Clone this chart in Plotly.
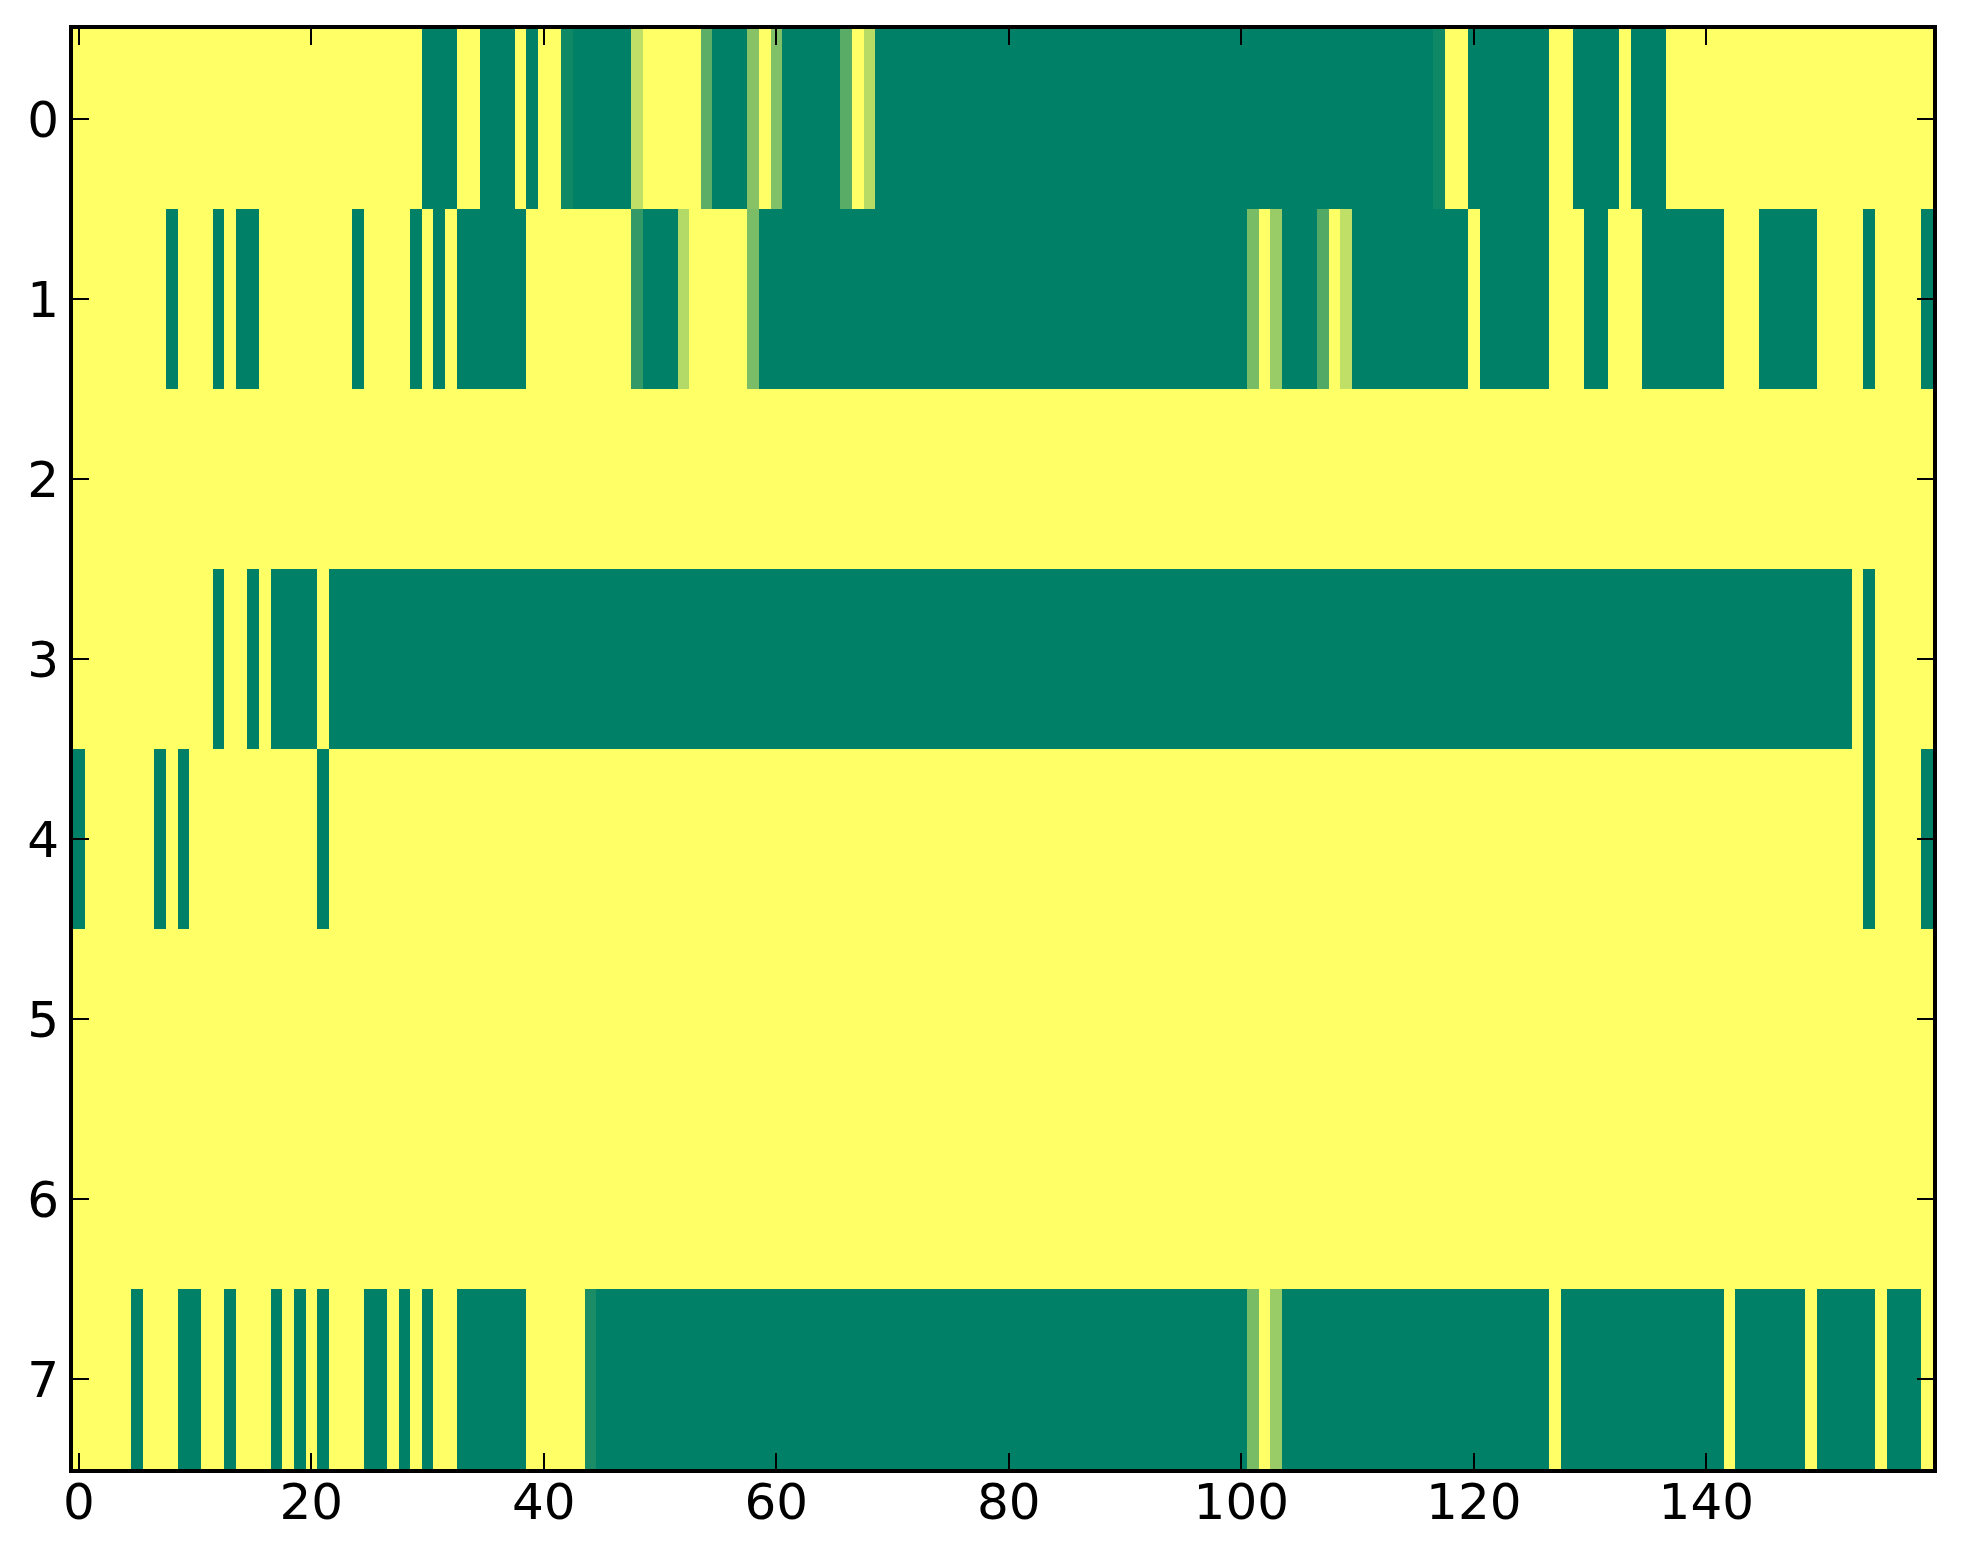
import plotly.graph_objects as go

# Heatmap values per row (160 columns, 0..159)
row0 = [1, 1, 1, 1, 1, 1, 1, 1, 1, 1, 1, 1, 1, 1, 1, 1, 1, 1, 1, 1,
        1, 1, 1, 1, 1, 1, 1, 1, 1, 1, 0, 0, 0, 1, 1, 0, 0, 0, 1, 0,
        1, 1, 0.06, 0, 0, 0, 0, 0, 0.75, 1, 1, 1, 1, 1, 0.36, 0, 0, 0, 0.53, 1,
        0.5, 0, 0, 0, 0, 0, 0.35, 1, 0.72, 0, 0, 0, 0, 0, 0, 0, 0, 0, 0, 0,
        0, 0, 0, 0, 0, 0, 0, 0, 0, 0, 0, 0, 0, 0, 0, 0, 0, 0, 0, 0,
        0, 0, 0, 0, 0, 0, 0, 0, 0, 0, 0, 0, 0, 0, 0, 0, 0, 0.06, 1, 1,
        0, 0, 0, 0, 0, 0, 0, 1, 1, 0, 0, 0, 0, 1, 0, 0, 0, 1, 1, 1,
        1, 1, 1, 1, 1, 1, 1, 1, 1, 1, 1, 1, 1, 1, 1, 1, 1, 1, 1, 1]

row1 = [1, 1, 1, 1, 1, 1, 1, 1, 0, 1, 1, 1, 0, 1, 0, 0, 1, 1, 1, 1,
        1, 1, 1, 1, 0, 1, 1, 1, 1, 0, 1, 0, 1, 0, 0, 0, 0, 0, 0, 1,
        1, 1, 1, 1, 1, 1, 1, 1, 0.2, 0, 0, 0, 0.7, 1, 1, 1, 1, 1, 0.48, 0,
        0, 0, 0, 0, 0, 0, 0, 0, 0, 0, 0, 0, 0, 0, 0, 0, 0, 0, 0, 0,
        0, 0, 0, 0, 0, 0, 0, 0, 0, 0, 0, 0, 0, 0, 0, 0, 0, 0, 0, 0,
        0, 0.47, 1, 0.6, 0, 0, 0, 0.32, 1, 0.75, 0, 0, 0, 0, 0, 0, 0, 0, 0, 0,
        1, 0, 0, 0, 0, 0, 0, 1, 1, 1, 0, 0, 1, 1, 1, 0, 0, 0, 0, 0,
        0, 0, 1, 1, 1, 0, 0, 0, 0, 0, 1, 1, 1, 1, 0, 1, 1, 1, 1, 0]

row2 = [1, 1, 1, 1, 1, 1, 1, 1, 1, 1, 1, 1, 1, 1, 1, 1, 1, 1, 1, 1,
        1, 1, 1, 1, 1, 1, 1, 1, 1, 1, 1, 1, 1, 1, 1, 1, 1, 1, 1, 1,
        1, 1, 1, 1, 1, 1, 1, 1, 1, 1, 1, 1, 1, 1, 1, 1, 1, 1, 1, 1,
        1, 1, 1, 1, 1, 1, 1, 1, 1, 1, 1, 1, 1, 1, 1, 1, 1, 1, 1, 1,
        1, 1, 1, 1, 1, 1, 1, 1, 1, 1, 1, 1, 1, 1, 1, 1, 1, 1, 1, 1,
        1, 1, 1, 1, 1, 1, 1, 1, 1, 1, 1, 1, 1, 1, 1, 1, 1, 1, 1, 1,
        1, 1, 1, 1, 1, 1, 1, 1, 1, 1, 1, 1, 1, 1, 1, 1, 1, 1, 1, 1,
        1, 1, 1, 1, 1, 1, 1, 1, 1, 1, 1, 1, 1, 1, 1, 1, 1, 1, 1, 1]

row3 = [1, 1, 1, 1, 1, 1, 1, 1, 1, 1, 1, 1, 0, 1, 1, 0, 1, 0, 0, 0,
        0, 1, 0, 0, 0, 0, 0, 0, 0, 0, 0, 0, 0, 0, 0, 0, 0, 0, 0, 0,
        0, 0, 0, 0, 0, 0, 0, 0, 0, 0, 0, 0, 0, 0, 0, 0, 0, 0, 0, 0,
        0, 0, 0, 0, 0, 0, 0, 0, 0, 0, 0, 0, 0, 0, 0, 0, 0, 0, 0, 0,
        0, 0, 0, 0, 0, 0, 0, 0, 0, 0, 0, 0, 0, 0, 0, 0, 0, 0, 0, 0,
        0, 0, 0, 0, 0, 0, 0, 0, 0, 0, 0, 0, 0, 0, 0, 0, 0, 0, 0, 0,
        0, 0, 0, 0, 0, 0, 0, 0, 0, 0, 0, 0, 0, 0, 0, 0, 0, 0, 0, 0,
        0, 0, 0, 0, 0, 0, 0, 0, 0, 0, 0, 0, 0, 1, 0, 1, 1, 1, 1, 1]

row4 = [0, 1, 1, 1, 1, 1, 1, 0, 1, 0, 1, 1, 1, 1, 1, 1, 1, 1, 1, 1,
        1, 0, 1, 1, 1, 1, 1, 1, 1, 1, 1, 1, 1, 1, 1, 1, 1, 1, 1, 1,
        1, 1, 1, 1, 1, 1, 1, 1, 1, 1, 1, 1, 1, 1, 1, 1, 1, 1, 1, 1,
        1, 1, 1, 1, 1, 1, 1, 1, 1, 1, 1, 1, 1, 1, 1, 1, 1, 1, 1, 1,
        1, 1, 1, 1, 1, 1, 1, 1, 1, 1, 1, 1, 1, 1, 1, 1, 1, 1, 1, 1,
        1, 1, 1, 1, 1, 1, 1, 1, 1, 1, 1, 1, 1, 1, 1, 1, 1, 1, 1, 1,
        1, 1, 1, 1, 1, 1, 1, 1, 1, 1, 1, 1, 1, 1, 1, 1, 1, 1, 1, 1,
        1, 1, 1, 1, 1, 1, 1, 1, 1, 1, 1, 1, 1, 1, 0, 1, 1, 1, 1, 0]

row5 = list(row2)
row6 = list(row2)

row7 = [1, 1, 1, 1, 1, 0, 1, 1, 1, 0, 0, 1, 1, 0, 1, 1, 1, 0, 1, 0,
        1, 0, 1, 1, 1, 0, 0, 1, 0, 1, 0, 1, 1, 0, 0, 0, 0, 0, 0, 1,
        1, 1, 1, 1, 0.1, 0, 0, 0, 0, 0, 0, 0, 0, 0, 0, 0, 0, 0, 0, 0,
        0, 0, 0, 0, 0, 0, 0, 0, 0, 0, 0, 0, 0, 0, 0, 0, 0, 0, 0, 0,
        0, 0, 0, 0, 0, 0, 0, 0, 0, 0, 0, 0, 0, 0, 0, 0, 0, 0, 0, 0,
        0, 0.47, 1, 0.6, 0, 0, 0, 0, 0, 0, 0, 0, 0, 0, 0, 0, 0, 0, 0, 0,
        0, 0, 0, 0, 0, 0, 0, 1, 0, 0, 0, 0, 0, 0, 0, 0, 0, 0, 0, 0,
        0, 0, 1, 0, 0, 0, 0, 0, 0, 1, 0, 0, 0, 0, 0, 1, 0, 0, 0, 1]

rows = [row0, row1, row2, row3, row4, row5, row6, row7]
x_ticks = [0, 20, 40, 60, 80, 100, 120, 140]
y_ticks = [0, 1, 2, 3, 4, 5, 6, 7]

# matplotlib "summer" colormap is linear in RGB: green -> yellow
summer = [[0.0, "rgb(0,128,102)"], [1.0, "rgb(255,255,102)"]]

fig = go.Figure()
fig.add_trace(go.Heatmap(z=rows, x=list(range(len(row0))), y=list(range(len(rows))),
                         colorscale=summer, zmin=0, zmax=1, showscale=False,
                         hoverinfo="x+y+z"))

axis_style = dict(showline=True, linecolor="black", linewidth=4, mirror="ticks",
                  ticks="inside", ticklen=16, tickwidth=2, tickcolor="black",
                  showgrid=False, zeroline=False, automargin=False,
                  tickfont=dict(family="DejaVu Sans", size=50, color="black"))

# page body has an 8px margin, so the figure is a bit smaller than the window
fig.update_layout(width=1947, height=1548,
                  margin=dict(l=65, r=22, t=21, b=87),
                  paper_bgcolor="white", plot_bgcolor="white",
                  font=dict(family="DejaVu Sans", size=50, color="black"))
fig.update_xaxes(range=[-0.5, len(row0) - 0.5], tickvals=x_ticks,
                 ticklabelstandoff=-14, **axis_style)
fig.update_yaxes(range=[len(rows) - 0.5, -0.5], tickvals=y_ticks, **axis_style)

fig.write_html("out.html")
